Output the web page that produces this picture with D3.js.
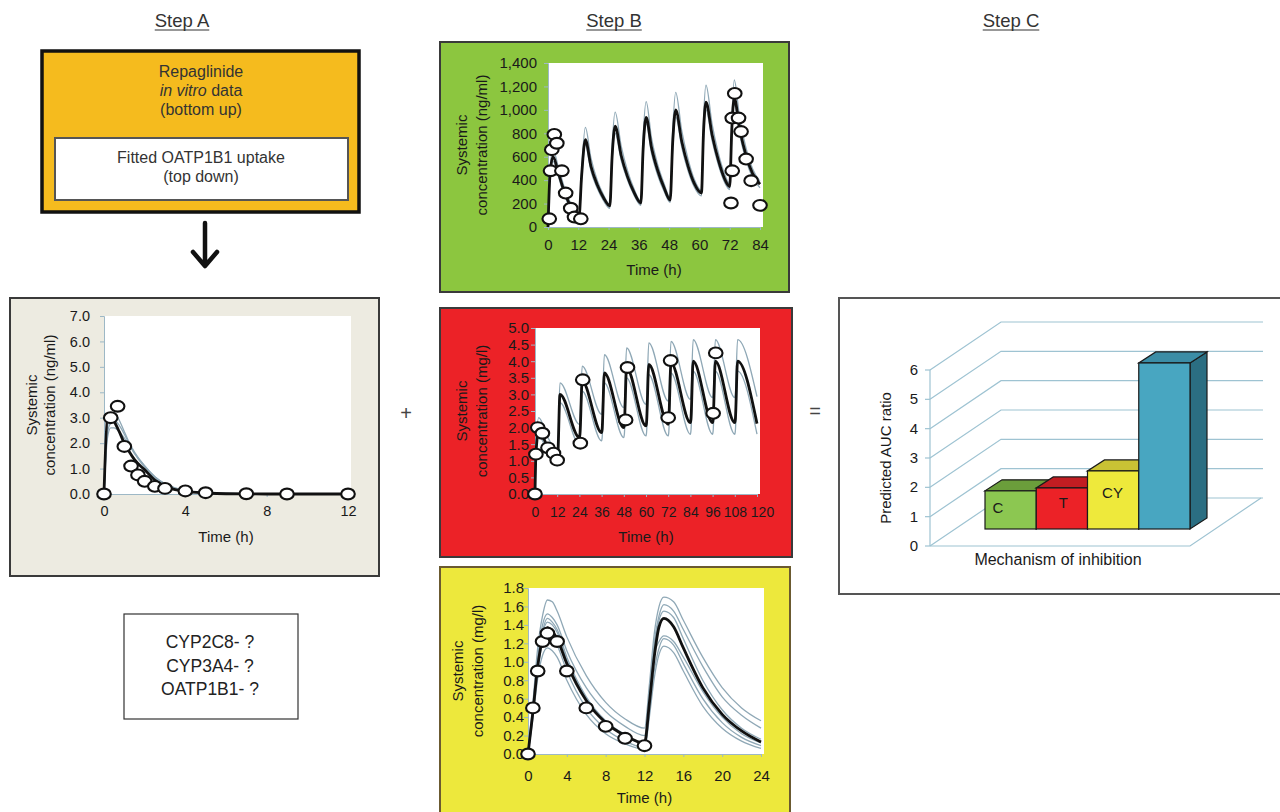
<!doctype html>
<html>
<head>
<meta charset="utf-8">
<title>Repaglinide DDI prediction workflow</title>
<script src="https://cdn.jsdelivr.net/npm/d3@7"></script>
<style>
  body { margin: 0; background: #fff; }
  svg { display: block; font-family: "Liberation Sans", Arial, sans-serif; }
</style>
</head>
<body>
<svg id="fig" width="1280" height="812"></svg>
<script>
// ---------- data ----------

// Step A: repaglinide alone
var timeA = [0, 0.17, 0.33, 0.5, 0.75, 1, 1.25, 1.5, 2, 2.5, 3, 3.5, 4, 5, 6, 8, 10, 12]
var meanA = [0, 3.0, 3.05, 2.85, 2.45, 2.0, 1.65, 1.35, 0.95, 0.55, 0.3, 0.17, 0.1, 0.04, 0.01, 0, 0, 0]
var trialsA = [
  [0, 2.2, 2.6, 2.6, 2.45, 2.2, 1.9, 1.6, 1.1, 0.68, 0.4, 0.24, 0.14, 0.05, 0.02, 0, 0, 0],
  [0, 2.6, 3.1, 3.2, 2.9, 2.45, 2.0, 1.65, 1.1, 0.68, 0.4, 0.23, 0.13, 0.05, 0.02, 0, 0, 0],
  [0, 2.4, 2.8, 2.9, 2.7, 2.35, 1.95, 1.6, 1.05, 0.62, 0.36, 0.2, 0.11, 0.04, 0.01, 0, 0, 0]
]
var obsTimeA = [0, 0.33, 0.67, 1, 1.33, 1.67, 2, 2.5, 3, 4, 5, 7, 9, 12]
var obsConcA = [0, 3.0, 3.45, 1.87, 1.1, 0.75, 0.5, 0.3, 0.22, 0.12, 0.05, 0.01, 0, 0]

// Step B, green: ng/ml
var timeG = [0, 0.8, 2, 4, 6, 8, 10, 12.3, 13.3, 14.8, 17, 19.5, 22, 24.5, 25.4, 26.6, 29, 31.5, 34, 36.8, 37.7, 38.9, 41, 43.5, 46, 48.4, 49.4, 50.6, 53, 55.5, 58, 60.8, 61.6, 62.6, 65, 67.5, 70, 72, 72.8, 73.8, 76, 78.5, 81, 84]
var meanG = [0, 450, 600, 470, 330, 220, 140, 90, 430, 745, 520, 360, 250, 180, 600, 860, 610, 430, 300, 205, 670, 935, 680, 480, 335, 230, 720, 1000, 730, 520, 370, 290, 800, 1065, 790, 570, 410, 345, 820, 1100, 830, 610, 460, 365]
var trialsG = [
  [0, 500, 660, 520, 370, 250, 160, 100, 480, 850, 590, 400, 275, 190, 680, 980, 690, 480, 330, 220, 760, 1070, 760, 530, 370, 250, 820, 1150, 820, 580, 405, 310, 900, 1210, 880, 630, 450, 370, 900, 1255, 920, 670, 500, 390],
  [0, 420, 560, 440, 300, 195, 120, 75, 400, 700, 480, 330, 225, 160, 560, 800, 570, 400, 275, 185, 620, 880, 630, 440, 305, 210, 670, 940, 680, 480, 340, 265, 740, 1000, 740, 530, 380, 320, 760, 1040, 780, 570, 425, 335]
]
var obsTimeG = [0.5, 1, 1.5, 2.5, 3.5, 5.5, 7, 9, 10.5, 13, 72.5, 73, 73, 74, 75.5, 76.5, 78.5, 80.5, 84]
var obsConcG = [70, 480, 660, 790, 715, 480, 290, 160, 85, 70, 205, 480, 930, 1140, 930, 815, 580, 395, 185]

// Step B, red: mg/l
var timeR = [0, 0.5, 2, 7, 12, 12.3, 13.5, 24, 24.3, 25.5, 36, 36.3, 37.5, 48, 48.3, 49.5, 60, 60.3, 61.5, 72, 72.3, 73.5, 84, 84.3, 85.5, 96, 96.3, 97.5, 108, 108.3, 109.5, 120]
var meanR = [0, 1.2, 1.9, 1.4, 1.0, 1.1, 3.0, 1.7, 1.8, 3.4, 1.85, 1.95, 3.65, 2.0, 2.1, 3.8, 2.05, 2.15, 3.9, 2.1, 2.2, 3.95, 2.15, 2.25, 4.0, 2.15, 2.25, 4.0, 2.15, 2.25, 4.0, 2.12]
var trialsR = [
  [0, 1.4, 2.3, 1.7, 1.3, 1.4, 3.35, 2.1, 2.2, 3.85, 2.4, 2.5, 4.2, 2.6, 2.7, 4.4, 2.7, 2.8, 4.55, 2.8, 2.9, 4.6, 2.85, 2.95, 4.65, 2.9, 3.0, 4.65, 2.9, 3.0, 4.65, 2.93],
  [0, 1.1, 1.75, 1.25, 0.85, 0.95, 2.75, 1.5, 1.6, 3.1, 1.6, 1.7, 3.35, 1.7, 1.8, 3.5, 1.75, 1.85, 3.6, 1.75, 1.85, 3.65, 1.8, 1.9, 3.7, 1.8, 1.9, 3.7, 1.8, 1.9, 3.7, 1.8]
]
var obsTimeR = [0, 0.5, 1.5, 4, 7, 10, 12, 24.5, 25.8, 49, 50, 72, 73.3, 96.3, 97.7]
var obsConcR = [0, 1.2, 2.0, 1.83, 1.39, 1.23, 1.02, 1.53, 3.44, 2.23, 3.81, 2.3, 4.02, 2.43, 4.25]

// Step B, yellow: mg/l
var timeY = [0, 0.5, 1, 1.5, 2, 2.5, 3, 4, 6, 8, 10, 12, 12.5, 13, 13.5, 14, 15, 16, 18, 20, 22, 24]
var meanY = [0, 0.45, 0.95, 1.25, 1.37, 1.33, 1.25, 0.98, 0.58, 0.34, 0.2, 0.12, 0.55, 1.05, 1.38, 1.47, 1.38, 1.15, 0.72, 0.43, 0.25, 0.13]
var trialsY = [
  [0, 0.55, 1.15, 1.5, 1.67, 1.65, 1.55, 1.27, 0.85, 0.56, 0.38, 0.28, 0.75, 1.3, 1.6, 1.7, 1.65, 1.45, 1.05, 0.72, 0.5, 0.36],
  [0, 0.5, 1.05, 1.4, 1.52, 1.48, 1.4, 1.12, 0.72, 0.46, 0.3, 0.2, 0.65, 1.2, 1.5, 1.62, 1.55, 1.35, 0.95, 0.62, 0.42, 0.28],
  [0, 0.48, 1.0, 1.33, 1.47, 1.43, 1.35, 1.05, 0.62, 0.36, 0.21, 0.12, 0.6, 1.15, 1.45, 1.55, 1.48, 1.25, 0.8, 0.48, 0.28, 0.16],
  [0, 0.42, 0.9, 1.2, 1.3, 1.27, 1.18, 0.9, 0.5, 0.27, 0.14, 0.07, 0.45, 0.9, 1.15, 1.25, 1.18, 0.98, 0.6, 0.34, 0.18, 0.09],
  [0, 0.38, 0.82, 1.07, 1.15, 1.12, 1.05, 0.8, 0.43, 0.22, 0.11, 0.05, 0.4, 0.82, 1.08, 1.17, 1.1, 0.9, 0.52, 0.28, 0.14, 0.06],
  [0, 0.46, 0.98, 1.3, 1.43, 1.4, 1.32, 1.02, 0.6, 0.35, 0.2, 0.11, 0.55, 1.08, 1.22, 1.28, 1.22, 1.05, 0.68, 0.4, 0.22, 0.12]
]
var obsTimeY = [0, 0.5, 1, 1.5, 2, 3, 4, 6, 8, 10, 12]
var obsConcY = [0, 0.5, 0.9, 1.22, 1.31, 1.22, 0.9, 0.5, 0.3, 0.17, 0.09]

// Step C: predicted AUC ratios
var barLabels = ['C', 'T', 'CY', '']
var barValues = [1.3, 1.4, 1.98, 5.66]
var barTicks = [0, 1, 2, 3, 4, 5, 6]

// ---------- drawing ----------
var svg = d3.select('#fig')
var INK = '#1a1a1a'

function drawPK(p) {
  var g = svg.append('g')
  g.append('rect')
    .attr('x', p.frame[0]).attr('y', p.frame[1])
    .attr('width', p.frame[2]).attr('height', p.frame[3])
    .attr('fill', p.fill).attr('stroke', p.border).attr('stroke-width', 2)

  var x = d3.scaleLinear().domain(p.xDomain).range(p.xRange)
  var y = d3.scaleLinear().domain(p.yDomain).range(p.yRange)

  g.append('rect')
    .attr('x', x(p.xDomain[0])).attr('y', y(p.yDomain[1]))
    .attr('width', x(p.xDomain[1]) - x(p.xDomain[0]) + 3)
    .attr('height', y(p.yDomain[0]) - y(p.yDomain[1]))
    .attr('fill', '#fff')

  var yAxis = d3.axisLeft(y).tickValues(p.yTicks).tickFormat(d3.format(p.fmt))
    .tickSize(4).tickPadding(p.yPad)
  var xAxis = d3.axisBottom(x).tickValues(p.xTicks).tickSize(3).tickPadding(p.xPad)

  var ya = g.append('g').attr('transform', 'translate(' + x(0) + ',0)').call(yAxis)
  var xa = g.append('g').attr('transform', 'translate(0,' + y(0) + ')').call(xAxis)
  ;[ya, xa].forEach(function (a) {
    a.select('.domain').attr('stroke', '#9db8c6')
    a.selectAll('.tick line').attr('stroke', '#9db8c6')
    a.selectAll('.tick text').attr('fill', INK).style('font-size', p.tickFont)
  })
  if (p.xTickFont) {
    xa.selectAll('.tick text').style('font-size', p.xTickFont)
      .attr('dx', function (d, i, n) { return i === n.length - 1 ? p.lastTickDx : 0 })
  }

  var line = d3.line().x(function (d, i) { return x(p.time[i]) }).y(function (d) { return y(d) })
    .curve(d3.curveMonotoneX)
  p.trials.forEach(function (s) {
    g.append('path').datum(s).attr('d', line)
      .attr('fill', 'none').attr('stroke', '#8fa8b6').attr('stroke-width', 1.3)
  })
  g.append('path').datum(p.mean).attr('d', line)
    .attr('fill', 'none').attr('stroke', '#111').attr('stroke-width', 2.8)
    .attr('stroke-linejoin', 'round')

  g.selectAll('ellipse.obs').data(p.obsConc).enter().append('ellipse')
    .attr('class', 'obs')
    .attr('cx', function (d, i) { return x(p.obsTime[i]) })
    .attr('cy', function (d) { return y(d) })
    .attr('rx', 6.8).attr('ry', 5.4)
    .attr('fill', '#fff').attr('stroke', '#111').attr('stroke-width', 2.1)

  var cy = (p.yRange[0] + p.yRange[1]) / 2
  var lab = g.append('text').attr('fill', INK).style('font-size', '15px')
    .attr('text-anchor', 'middle')
  lab.append('tspan').attr('x', -cy).attr('y', p.labX[0] + 5).text('Systemic')
  lab.append('tspan').attr('x', -cy).attr('y', p.labX[1] + 5).text(p.unitLabel)
  lab.attr('transform', 'rotate(-90)')

  g.append('text').attr('x', (p.xRange[0] + p.xRange[1]) / 2).attr('y', p.timeY + 5)
    .attr('text-anchor', 'middle').attr('fill', INK).style('font-size', '15px')
    .text('Time (h)')
}

function steps(a, b, s) { return d3.range(a, b + s / 2, s) }

// Step A plot
drawPK({
  frame: [10, 298, 369, 278], fill: '#edebe1', border: '#3a3a3a', tickFont: '14.5px',
  xDomain: [0, 12], xRange: [104, 348], xTicks: [0, 4, 8, 12], xPad: 9,
  yDomain: [0, 7], yRange: [494, 316], yTicks: steps(0, 7, 1), fmt: '.1f', yPad: 10,
  time: timeA, mean: meanA, trials: trialsA, obsTime: obsTimeA, obsConc: obsConcA,
  labX: [32, 50], unitLabel: 'concentration (ng/ml)', timeY: 537
})
// Step B plots
drawPK({
  frame: [440, 42, 349, 250], fill: '#8cc63f', border: '#3a3a3a', tickFont: '15px',
  xDomain: [0, 84], xRange: [548, 760], xTicks: steps(0, 84, 12), xPad: 9,
  yDomain: [0, 1400], yRange: [227, 63], yTicks: steps(0, 1400, 200), fmt: ',', yPad: 7,
  time: timeG, mean: meanG, trials: trialsG, obsTime: obsTimeG, obsConc: obsConcG,
  labX: [462, 482], unitLabel: 'concentration (ng/ml)', timeY: 270
})
drawPK({
  frame: [440, 308, 352, 249], fill: '#ec2227', border: '#3a3a3a', tickFont: '15px',
  xTickFont: '14px', lastTickDx: 5,
  xDomain: [0, 120], xRange: [535, 757], xTicks: steps(0, 120, 12), xPad: 10,
  yDomain: [0, 5], yRange: [494, 328], yTicks: steps(0, 5, 0.5), fmt: '.1f', yPad: 2,
  time: timeR, mean: meanR, trials: trialsR, obsTime: obsTimeR, obsConc: obsConcR,
  labX: [462, 482], unitLabel: 'concentration (mg/l)', timeY: 537
})
drawPK({
  frame: [440, 567, 350, 260], fill: '#ede83c', border: '#6b5a30', tickFont: '15px',
  xDomain: [0, 24], xRange: [528, 761], xTicks: steps(0, 24, 4), xPad: 13,
  yDomain: [0, 1.8], yRange: [754, 588], yTicks: steps(0, 1.8, 0.2), fmt: '.1f', yPad: 0,
  time: timeY, mean: meanY, trials: trialsY, obsTime: obsTimeY, obsConc: obsConcY,
  labX: [458, 478], unitLabel: 'concentration (mg/l)', timeY: 798
})

// headers
;[['Step A', 182], ['Step B', 614], ['Step C', 1011]].forEach(function (h) {
  var t = svg.append('text').attr('x', h[1]).attr('y', 27).attr('text-anchor', 'middle')
    .attr('fill', '#333').style('font-size', '18.5px').text(h[0])
  var w = t.node().getComputedTextLength()
  svg.append('line').attr('x1', h[1] - w / 2).attr('x2', h[1] + w / 2)
    .attr('y1', 30).attr('y2', 30).attr('stroke', '#333').attr('stroke-width', 1.2)
})

// Step A input box
svg.append('rect').attr('x', 42).attr('y', 51).attr('width', 317).attr('height', 161)
  .attr('fill', '#f5bb1e').attr('stroke', '#111').attr('stroke-width', 3.5)
svg.append('rect').attr('x', 55).attr('y', 138).attr('width', 293).attr('height', 62)
  .attr('fill', '#fff').attr('stroke', '#555').attr('stroke-width', 2)
var boxText = svg.append('g').attr('fill', '#333').style('font-size', '16px').attr('text-anchor', 'middle')
boxText.append('text').attr('x', 201).attr('y', 77).text('Repaglinide')
var iv = boxText.append('text').attr('x', 201).attr('y', 96)
iv.append('tspan').style('font-style', 'italic').text('in vitro')
iv.append('tspan').text(' data')
boxText.append('text').attr('x', 201).attr('y', 115).text('(bottom up)')
boxText.append('text').attr('x', 201).attr('y', 163).text('Fitted OATP1B1 uptake')
boxText.append('text').attr('x', 201).attr('y', 182).text('(top down)')

// arrow
svg.append('path').attr('d', 'M205,223 L205,265 M193,252 L205,266 L217,252')
  .attr('fill', 'none').attr('stroke', '#111').attr('stroke-width', 4.5)
  .attr('stroke-linecap', 'round').attr('stroke-linejoin', 'round')

// question box
svg.append('rect').attr('x', 124).attr('y', 614).attr('width', 174).attr('height', 105)
  .attr('fill', '#fff').attr('stroke', '#333').attr('stroke-width', 1.2)
;['CYP2C8- ?', 'CYP3A4- ?', 'OATP1B1- ?'].forEach(function (s, i) {
  svg.append('text').attr('x', 210).attr('y', 648 + i * 23.5).attr('text-anchor', 'middle')
    .attr('fill', '#222').style('font-size', '17.5px').text(s)
})

// operators
svg.append('text').attr('x', 406).attr('y', 420).attr('text-anchor', 'middle')
  .attr('fill', '#444').style('font-size', '20px').text('+')
svg.append('text').attr('x', 815).attr('y', 418).attr('text-anchor', 'middle')
  .attr('fill', '#444').style('font-size', '20px').text('=')

// ---------- Step C: 3D bar chart ----------
var bc = svg.append('g')
bc.append('rect').attr('x', 839).attr('y', 298).attr('width', 445).attr('height', 296)
  .attr('fill', '#fff').attr('stroke', '#555').attr('stroke-width', 2)

var WALL_DX = 71, WALL_DY = -48, FLOOR_W = 260
var BAR_DX = 17, BAR_DY = -11, BAR_SHIFT = 17
var yBar = d3.scaleLinear().domain([0, 6]).range([546, 370])
var xBar = d3.scaleBand().domain(d3.range(barValues.length)).range([985, 1190]).padding(0)
var AX = 930
var GRID = '#9ec3d2'

barTicks.forEach(function (v) {
  var yf = yBar(v)
  bc.append('path')
    .attr('d', 'M' + AX + ',' + yf + ' L' + (AX + WALL_DX) + ',' + (yf + WALL_DY) +
      ' L' + (AX + WALL_DX + FLOOR_W + 2) + ',' + (yf + WALL_DY))
    .attr('fill', 'none').attr('stroke', GRID).attr('stroke-width', 1.2)
  bc.append('line').attr('x1', AX - 5).attr('x2', AX).attr('y1', yf).attr('y2', yf)
    .attr('stroke', GRID).attr('stroke-width', 1.2)
  bc.append('text').attr('x', AX - 12).attr('y', yf + 5).attr('text-anchor', 'end')
    .attr('fill', INK).style('font-size', '15px').text(v)
})
bc.append('line').attr('x1', AX).attr('x2', AX).attr('y1', yBar(0)).attr('y2', yBar(6))
  .attr('stroke', GRID).attr('stroke-width', 1.2)
bc.append('path')
  .attr('d', 'M' + AX + ',' + yBar(0) + ' L' + (AX + FLOOR_W) + ',' + yBar(0) +
    ' L' + (AX + FLOOR_W + WALL_DX) + ',' + (yBar(0) + WALL_DY))
  .attr('fill', 'none').attr('stroke', GRID).attr('stroke-width', 1.2)

var barFront = ['#8cc751', '#ec2227', '#eee93b', '#48a6c1']
var barTop = ['#6b9e3b', '#c21d22', '#c9c234', '#3b8da6']
var barSide = ['#557f2f', '#9a171b', '#a39d2a', '#2b6e82']
var labelDx = [13, 27, 25, 0]
var labelDy = [22, 20, 27, 0]

barValues.forEach(function (v, i) {
  var x0 = xBar(i), x1 = xBar(i) + xBar.bandwidth()
  var top = yBar(v) - BAR_SHIFT, base = yBar(0) - BAR_SHIFT
  bc.append('path')
    .attr('d', 'M' + x1 + ',' + top + ' L' + (x1 + BAR_DX) + ',' + (top + BAR_DY) +
      ' L' + (x1 + BAR_DX) + ',' + (base + BAR_DY) + ' L' + x1 + ',' + base + 'Z')
    .attr('fill', barSide[i]).attr('stroke', '#1a1a1a').attr('stroke-width', 1.2)
  bc.append('path')
    .attr('d', 'M' + x0 + ',' + top + ' L' + x1 + ',' + top + ' L' + (x1 + BAR_DX) + ',' + (top + BAR_DY) +
      ' L' + (x0 + BAR_DX) + ',' + (top + BAR_DY) + 'Z')
    .attr('fill', barTop[i]).attr('stroke', '#1a1a1a').attr('stroke-width', 1.2)
  bc.append('rect').attr('x', x0).attr('y', top).attr('width', x1 - x0).attr('height', base - top)
    .attr('fill', barFront[i]).attr('stroke', '#1a1a1a').attr('stroke-width', 1.2)
  if (barLabels[i]) {
    bc.append('text').attr('x', x0 + labelDx[i]).attr('y', top + labelDy[i])
      .attr('text-anchor', 'middle').attr('fill', INK).style('font-size', '15px').text(barLabels[i])
  }
})

bc.append('text').attr('transform', 'translate(891,458) rotate(-90)').attr('text-anchor', 'middle')
  .attr('fill', INK).style('font-size', '15px').text('Predicted AUC ratio')
bc.append('text').attr('x', 1058).attr('y', 565).attr('text-anchor', 'middle')
  .attr('fill', INK).style('font-size', '16px').text('Mechanism of inhibition')
</script>
</body>
</html>
